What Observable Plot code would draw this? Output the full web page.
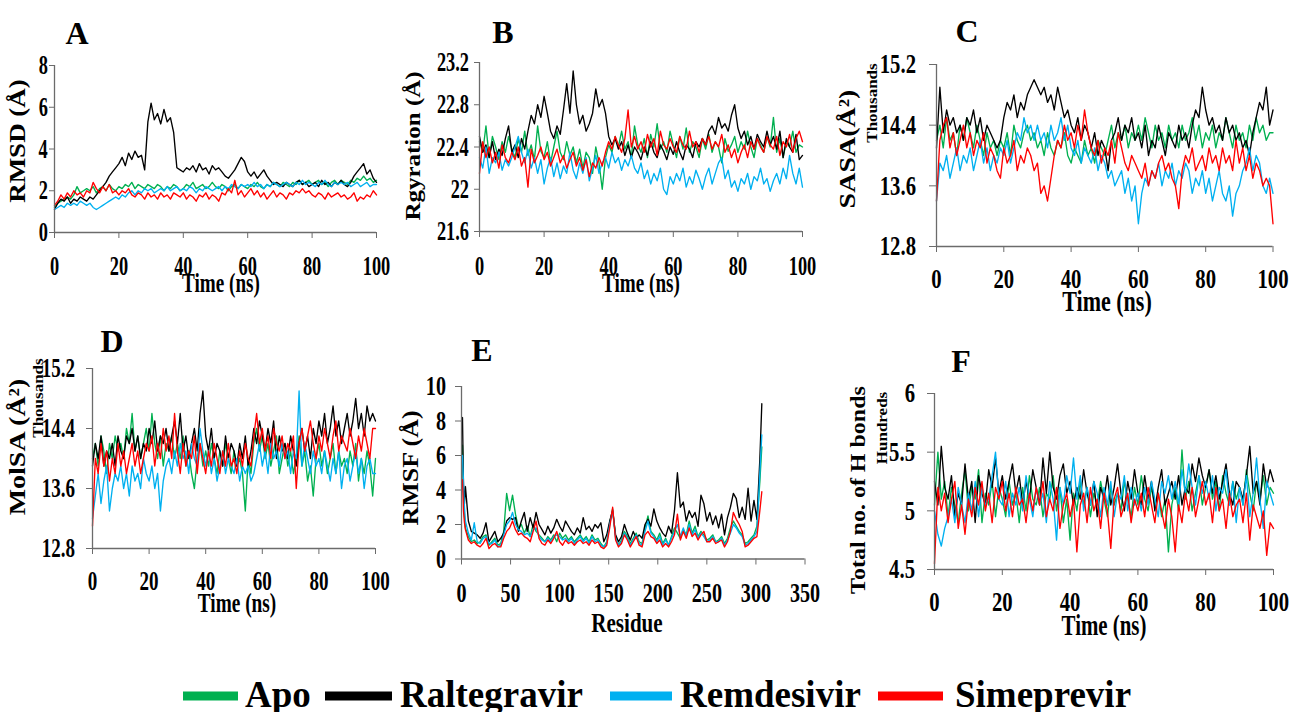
<!DOCTYPE html>
<html>
<head>
<meta charset="utf-8">
<script src="https://cdn.jsdelivr.net/npm/d3@7"></script>
<script src="https://cdn.jsdelivr.net/npm/@observablehq/plot@0.6"></script>
<style>
  body { margin: 0; background: #fff; }
  #fig { position: relative; width: 1292px; height: 712px; overflow: hidden; background: #fff;
         font-family: "Liberation Serif", "Times New Roman", serif; font-weight: bold; }
  #fig svg.panel { position: absolute; overflow: visible; }
  #overlay { position: absolute; left: 0; top: 0; }
</style>
</head>
<body>
<div id="fig"></div>
<script>
// ---------------- DATA ----------------
const seriesNames = ["Apo", "Raltegravir", "Remdesivir", "Simeprevir"];
const seriesColors = ["#00B050", "#000000", "#00B0F0", "#FF0000"];

// time axis (ns), one sample per ns
const timeNs = [0,1,2,3,4,5,6,7,8,9,10,11,12,13,14,15,16,17,18,19,20,21,22,23,24,25,26,27,28,29,30,31,32,33,34,35,36,37,38,39,40,41,42,43,44,45,46,47,48,49,50,51,52,53,54,55,56,57,58,59,60,61,62,63,64,65,66,67,68,69,70,71,72,73,74,75,76,77,78,79,80,81,82,83,84,85,86,87,88,89,90,91,92,93,94,95,96,97,98,99,100];

// A: RMSD (Å)
const rmsdApo = [1.2,1.4,1.5,1.6,1.7,1.6,1.8,2.2,1.9,2.0, 2.1,2.0,2.2,1.9,2.1,2.2,2.0,2.3,2.1,2.0, 2.2,2.1,2.3,2.2,2.4,2.1,2.3,2.2,2.1,2.3, 2.2,2.1,2.3,2.2,2.0,2.2,2.1,2.3,2.2,2.0, 2.1,2.3,2.2,2.4,2.1,2.2,2.3,2.1,2.2,2.4, 2.2,2.1,2.3,2.2,2.0,2.2,2.3,2.1,2.3,2.2, 2.1,2.3,2.2,2.4,2.2,2.1,2.3,2.2,2.4,2.3, 2.2,2.4,2.3,2.2,2.4,2.3,2.5,2.3,2.4,2.5, 2.3,2.4,2.5,2.3,2.4,2.2,2.4,2.5,2.3,2.5, 2.4,2.3,2.5,2.4,2.6,2.5,2.7,2.5,2.6,2.4, 2.5];
const rmsdRal = [1.1,1.4,1.6,1.5,1.7,1.4,1.6,1.5,1.7,1.6, 1.5,1.7,1.6,1.8,2.0,2.2,2.4,2.7,2.9,3.1, 3.3,3.6,3.2,3.8,3.5,3.9,3.6,3.7,3.0,5.3, 6.2,5.4,5.7,5.2,5.9,5.3,5.5,4.8,3.1,3.0, 2.9,3.1,3.0,3.2,2.9,3.3,3.0,3.1,2.8,3.2, 3.0,3.1,2.9,2.7,2.6,2.8,3.0,3.3,3.6,3.4, 2.9,2.7,2.9,2.6,2.8,3.0,2.7,2.5,2.3,2.4, 2.3,2.2,2.4,2.3,2.2,2.4,2.5,2.3,2.4,2.2, 2.3,2.4,2.2,2.5,2.3,2.4,2.2,2.4,2.3,2.5, 2.3,2.2,2.4,2.7,2.9,3.1,3.3,2.8,3.0,2.6, 2.4];
const rmsdRem = [1.1,1.2,1.3,1.2,1.4,1.3,1.4,1.3,1.5,1.4, 1.3,1.4,1.2,1.1,1.2,1.3,1.4,1.5,1.6,1.7, 1.6,1.8,1.7,1.9,2.0,1.8,2.0,1.9,2.1,2.0, 2.1,1.9,2.0,2.1,2.0,2.2,2.0,2.1,2.2,2.0, 2.1,2.0,2.2,2.1,1.9,2.1,2.0,2.2,2.1,2.0, 2.1,2.2,2.0,2.2,2.1,2.3,2.2,2.1,2.3,2.2, 2.3,2.2,2.4,2.2,2.3,2.1,2.3,2.2,2.4,2.3, 2.2,2.3,2.4,2.3,2.2,2.4,2.3,2.5,2.3,2.4, 2.3,2.2,2.4,2.3,2.5,2.3,2.2,2.4,2.3,2.4, 2.3,2.4,2.2,2.3,2.4,2.2,2.3,2.4,2.2,2.3, 2.3];
const rmsdSim = [1.3,1.5,1.8,1.6,1.9,1.7,2.0,1.8,1.9,1.7, 2.0,1.9,2.4,2.1,1.9,2.2,2.0,2.3,1.9,2.0, 1.8,2.0,1.9,2.1,1.8,1.7,1.9,1.8,1.6,1.9, 1.7,1.8,1.6,1.9,1.7,1.8,1.6,1.9,1.8,1.7, 1.9,1.6,1.8,1.7,1.5,1.8,1.7,1.9,1.6,1.8, 1.7,1.5,1.9,1.8,2.1,1.9,2.5,1.8,2.0,1.7, 1.9,2.1,1.8,2.0,1.7,1.9,1.6,1.8,2.0,1.7, 1.9,1.8,1.6,1.9,1.8,2.0,1.9,2.1,1.9,2.0, 1.8,1.7,1.9,1.8,1.6,1.9,1.7,1.8,1.9,1.7, 1.8,1.6,1.7,1.9,1.5,1.7,1.6,1.8,1.7,2.0, 1.8];

// B: radius of gyration (Å)
const rgApo = [22.45,22.35,22.60,22.30,22.50,22.40,22.28,22.45,22.35,22.50, 22.38,22.30,22.48,22.35,22.55,22.32,22.42,22.28,22.60,22.36, 22.30,22.45,22.25,22.40,22.55,22.35,22.28,22.45,22.32,22.40, 22.25,22.38,22.20,22.35,22.30,22.15,22.40,22.25,22.00,22.30, 22.42,22.35,22.50,22.40,22.55,22.38,22.45,22.30,22.60,22.42, 22.35,22.48,22.30,22.52,22.40,22.62,22.38,22.45,22.35,22.55, 22.42,22.30,22.50,22.38,22.58,22.35,22.45,22.40,22.30,22.48, 22.38,22.52,22.35,22.45,22.40,22.25,22.48,22.36,22.42,22.50, 22.35,22.45,22.38,22.55,22.40,22.30,22.48,22.42,22.35,22.50, 22.40,22.68,22.35,22.48,22.30,22.45,22.40,22.55,22.35,22.42, 22.40];
const rgRal = [22.50,22.35,22.42,22.30,22.45,22.28,22.38,22.32,22.48,22.60, 22.35,22.42,22.30,22.48,22.38,22.55,22.70,22.62,22.80,22.68, 22.88,22.72,22.55,22.48,22.60,22.52,22.75,23.00,22.72,23.12, 22.80,22.62,22.70,22.55,22.62,22.72,22.95,22.78,22.85,22.72, 22.50,22.42,22.48,22.38,22.45,22.32,22.42,22.30,22.40,22.35, 22.28,22.40,22.32,22.45,22.35,22.30,22.42,22.36,22.28,22.40, 22.33,22.45,22.35,22.28,22.42,22.38,22.30,22.45,22.40,22.48, 22.42,22.55,22.60,22.52,22.68,22.58,22.62,22.55,22.70,22.80, 22.58,22.48,22.55,22.42,22.50,22.38,22.52,22.45,22.40,22.55, 22.42,22.50,22.38,22.55,22.30,22.48,22.40,22.35,22.52,22.28, 22.32];
const rgRem = [22.30,22.20,22.40,22.15,22.30,22.25,22.35,22.18,22.28,22.22, 22.30,22.40,22.50,22.35,22.25,22.38,22.20,22.30,22.15,22.28, 22.05,22.20,22.30,22.12,22.25,22.10,22.22,22.15,22.35,22.18, 22.10,22.25,22.15,22.30,22.08,22.20,22.32,22.15,22.25,22.30, 22.20,22.35,22.25,22.30,22.18,22.28,22.22,22.32,22.20,22.15, 22.25,22.10,22.18,22.05,22.15,22.08,22.20,22.00,21.95,22.12, 22.05,22.15,22.08,22.20,22.02,22.12,22.05,22.18,22.10,22.00, 22.12,22.20,22.05,22.15,22.25,22.30,22.10,22.18,22.02,22.08, 21.98,22.10,22.05,22.15,22.00,22.12,22.08,22.20,22.05,22.10, 21.98,22.08,22.15,22.05,22.20,22.10,22.32,22.15,22.05,22.20, 22.02];
const rgSim = [22.15,22.45,22.30,22.40,22.25,22.35,22.20,22.42,22.30,22.25, 22.35,22.28,22.40,22.22,22.30,22.02,22.38,22.25,22.32,22.40, 22.28,22.35,22.22,22.30,22.38,22.25,22.32,22.20,22.28,22.35, 22.22,22.30,22.18,22.28,22.12,22.25,22.20,22.30,22.22,22.35, 22.45,22.38,22.50,22.42,22.35,22.48,22.75,22.40,22.50,22.38, 22.45,22.35,22.52,22.40,22.48,22.32,22.55,22.42,22.38,22.48, 22.40,22.35,22.50,22.42,22.38,22.55,22.40,22.45,22.35,22.48, 22.42,22.50,22.38,22.45,22.40,22.52,22.35,22.42,22.30,22.38, 22.25,22.35,22.42,22.30,22.45,22.38,22.48,22.40,22.35,22.50, 22.42,22.38,22.50,22.32,22.45,22.40,22.52,22.35,22.48,22.55, 22.45];

// C: SASA (thousands of Å²)
const sasaApo = [14.2,14.4,14.1,14.5,14.2,14.3,14.0,14.4,14.2,14.5, 14.3,14.1,14.4,14.2,14.0,14.3,14.1,14.2,14.0,14.2, 14.1,14.3,14.0,14.4,14.2,14.1,14.3,14.4,14.2,14.3, 14.1,14.2,14.0,14.3,14.1,14.0,14.2,14.1,14.3,14.0, 13.9,14.1,14.0,13.9,14.2,14.0,14.1,13.9,14.2,14.1, 14.0,14.2,14.4,14.1,14.3,14.2,14.4,14.1,14.3,14.2, 14.4,14.2,14.5,14.3,14.1,14.4,14.2,14.3,14.1,14.4, 14.2,14.3,14.1,14.4,14.2,14.3,14.5,14.2,14.4,14.1, 14.3,14.2,14.4,14.1,14.3,14.2,14.5,14.3,14.1,14.4, 14.2,14.3,14.1,14.4,14.2,14.5,14.3,14.4,14.2,14.3, 14.3];
const sasaRal = [14.1,14.9,14.3,14.6,14.4,14.5,14.3,14.4,14.2,14.5, 14.4,14.6,14.3,14.5,14.2,14.4,14.3,14.2,14.1,14.2, 14.5,14.7,14.6,14.8,14.5,14.7,14.6,14.8,14.9,15.0, 14.9,14.8,14.9,14.7,14.8,14.6,14.9,14.7,14.5,14.6, 14.4,14.3,14.5,14.2,14.4,14.3,14.1,14.3,14.0,14.2, 14.1,13.8,14.2,14.3,14.5,14.2,14.4,14.3,14.5,14.2, 14.3,14.1,14.4,14.0,14.2,14.1,14.4,14.2,14.0,14.3, 14.2,14.1,14.4,14.2,14.3,14.1,14.4,14.6,14.5,14.9, 14.6,14.4,14.5,14.3,14.4,14.2,14.5,14.3,14.4,14.2, 14.3,14.1,14.2,14.0,14.3,14.5,14.7,14.6,14.9,14.4, 14.6];
const sasaRem = [13.4,13.9,13.8,14.0,13.7,13.9,14.1,13.8,14.0,13.9, 14.1,13.8,14.0,14.2,13.9,14.1,13.8,14.0,13.9,14.1, 14.0,14.2,13.9,14.1,14.3,14.2,14.5,14.3,14.4,14.2, 14.4,14.2,14.3,14.1,14.4,14.2,14.3,14.5,14.2,14.4, 14.1,14.0,14.2,13.9,14.1,14.0,13.9,14.1,13.8,14.0, 13.9,13.7,13.8,13.6,13.7,13.8,13.5,13.7,13.4,13.6, 13.1,13.5,13.7,13.6,13.8,13.7,13.9,13.6,13.8,13.7, 13.9,13.6,13.8,13.7,13.9,13.8,13.5,13.7,13.6,13.8, 13.5,13.7,13.4,13.6,13.8,13.5,13.4,13.6,13.2,13.5, 13.6,13.8,13.9,14.1,13.8,14.0,13.9,13.6,13.5,13.7, 13.5];
const sasaSim = [13.4,14.2,14.4,14.5,14.1,14.3,14.0,14.2,14.4,14.1, 14.3,14.0,14.2,14.1,14.3,13.9,14.1,14.0,13.8,13.7, 14.1,13.9,14.0,14.2,13.8,14.0,13.9,14.1,14.0,13.8, 13.9,13.5,13.6,13.4,13.7,14.0,14.2,14.1,14.4,14.2, 14.3,14.1,14.4,14.2,14.6,14.3,14.1,14.0,14.2,13.9, 14.1,14.0,14.2,13.9,14.3,14.1,13.9,13.8,14.0,13.9, 13.8,13.7,13.9,13.6,13.8,13.7,13.9,14.0,13.8,13.9, 13.7,13.6,13.3,13.8,14.0,13.9,14.1,13.8,13.9,14.0, 13.8,14.1,13.9,14.0,13.8,14.1,13.9,14.0,13.8,14.2, 13.9,14.1,13.8,14.0,13.7,13.9,13.8,13.6,13.7,13.6, 13.1];

// D: MolSA (thousands of Å²)
const molApo = [14.0,14.2,13.9,14.3,14.1,13.8,14.2,14.0,14.3,14.1, 14.2,14.0,14.4,14.2,14.6,14.1,14.3,14.0,14.2,14.4, 14.1,14.6,14.2,14.0,14.3,13.9,14.2,14.1,14.3,14.0, 14.2,14.0,14.3,13.9,14.1,13.8,13.6,14.0,14.2,13.9, 14.1,13.9,14.2,14.0,13.8,14.1,13.9,14.2,14.0,13.8, 14.1,13.9,14.0,13.8,13.3,14.0,13.8,14.2,14.4,14.1, 14.3,14.0,14.2,13.9,14.1,14.3,13.8,14.0,14.2,13.9, 14.1,13.8,14.0,14.3,13.9,14.1,13.7,13.9,13.5,14.0, 14.2,13.9,14.1,13.8,14.0,14.2,13.8,14.1,13.9,14.0, 13.8,14.1,13.9,14.2,13.7,14.0,13.8,14.1,13.9,13.5, 14.0];
const molRal = [13.9,14.2,14.0,14.3,13.9,14.1,14.0,14.2,13.9,14.3, 14.1,14.0,14.3,14.2,14.4,14.1,14.3,14.0,14.2,14.1, 14.4,14.2,14.5,14.1,14.3,14.2,14.4,14.1,14.3,14.5, 14.2,14.6,14.1,14.3,14.0,14.2,14.4,14.1,14.6,14.9, 14.3,14.1,14.4,14.0,14.2,14.1,13.9,14.3,14.0,14.2, 14.1,13.9,14.2,14.0,14.3,13.9,14.1,14.4,14.2,14.5, 14.3,14.1,14.4,14.2,14.5,14.0,14.3,14.1,14.2,14.0, 14.3,14.1,13.9,14.2,14.4,14.1,14.3,14.0,14.4,14.2, 14.5,14.3,14.6,14.2,14.4,14.7,14.3,14.5,14.2,14.4, 14.6,14.3,14.5,14.8,14.4,14.6,14.3,14.7,14.5,14.6, 14.5];
const molRem = [13.2,13.5,13.8,13.4,13.7,13.9,13.3,13.6,13.8,13.7, 13.9,13.6,13.8,13.5,13.9,13.7,13.8,13.6,14.0,13.8, 13.7,13.9,13.6,13.8,13.3,13.7,13.9,14.0,13.8,14.1, 13.9,14.2,14.0,14.1,13.8,14.2,14.0,13.9,14.4,14.1, 13.9,14.1,13.8,14.0,13.7,13.9,14.1,13.8,14.0,13.9, 13.8,14.0,13.7,13.9,13.8,13.9,13.7,13.8,14.0,14.2, 13.9,14.1,13.8,14.2,14.0,14.1,13.9,14.2,14.0,14.1, 13.8,14.1,14.0,14.9,13.9,14.2,14.0,13.8,14.1,13.9, 14.0,13.8,14.1,13.9,13.7,14.0,13.8,14.1,13.6,13.9, 14.0,13.7,13.9,14.1,13.8,14.0,13.6,13.9,14.0,13.8, 13.8];
const molSim = [13.1,14.0,13.8,14.2,13.9,14.1,13.7,14.0,13.8,14.2, 13.9,14.1,13.8,14.0,14.2,13.9,14.1,13.8,14.0,14.2, 14.1,14.3,13.9,14.2,14.0,14.4,14.1,14.3,14.0,14.6, 14.1,13.8,14.2,13.9,14.1,14.0,14.3,13.8,14.2,14.0, 13.8,14.1,13.9,14.2,14.0,13.8,14.1,13.9,14.2,13.9, 14.0,13.8,14.1,13.9,14.2,14.0,13.9,14.3,14.6,14.2, 14.4,14.1,14.3,14.0,14.4,14.2,14.1,14.3,14.0,14.2, 14.1,14.3,13.6,14.2,14.4,14.1,14.3,14.5,14.2,14.0, 14.3,14.1,14.4,14.2,14.0,14.3,14.5,14.1,14.3,14.2, 14.1,14.4,14.2,14.0,14.3,14.1,14.4,14.2,14.0,14.4, 14.4];

// F: total number of H bonds (hundreds)
const hbApo = [5.05,5.50,5.10,5.25,4.95,5.20,5.05,4.90,5.15,5.35, 5.00,5.20,5.10,5.35,4.90,5.15,5.05,5.25,4.95,5.20, 5.10,4.95,5.25,5.05,5.15,4.90,5.20,5.00,5.30,5.10, 5.05,5.20,4.95,5.15,5.10,5.30,5.00,5.20,4.90,5.10, 4.75,5.15,5.00,5.25,5.05,5.20,4.95,5.15,5.05,5.25, 5.10,4.95,5.20,5.05,5.15,5.00,5.25,5.10,4.95,5.20, 5.05,5.30,5.10,5.00,5.20,5.05,5.15,4.95,5.10,4.65, 5.05,5.20,5.00,5.52,5.10,5.25,5.00,5.15,5.30,5.05, 5.20,5.35,5.10,5.25,5.00,5.30,5.15,5.05,5.25,5.10, 5.20,5.05,5.35,5.15,5.00,5.25,5.10,5.30,5.05,5.20, 5.15];
const hbRal = [5.25,5.05,5.55,5.20,5.10,5.30,4.95,5.15,5.05,5.40, 5.10,5.25,4.90,5.30,5.15,5.05,5.35,5.20,5.45,5.15, 5.30,5.10,5.25,5.40,5.15,5.30,5.05,5.25,5.10,5.35, 5.20,5.05,5.45,5.15,5.50,5.20,5.10,5.30,5.40,5.15, 5.25,5.05,5.20,5.10,5.35,5.15,5.05,5.25,4.95,5.20, 5.10,5.30,5.05,5.20,5.40,5.15,5.00,5.25,5.10,5.35, 5.15,5.05,5.30,5.10,5.25,5.00,5.20,5.35,5.05,5.15, 5.25,5.10,5.30,5.05,5.20,5.15,5.40,5.25,5.45,5.30, 5.20,5.35,5.15,5.30,5.10,5.25,5.40,5.15,5.05,5.25, 5.20,5.10,5.30,5.55,5.15,5.25,5.05,5.40,5.20,5.35, 5.25];
const hbRem = [5.00,4.80,4.70,4.85,4.95,5.10,4.90,5.20,5.05,4.90, 5.15,5.00,5.25,4.95,5.20,5.05,5.10,5.30,5.50,5.10, 5.05,5.25,4.95,5.15,5.05,5.20,5.00,5.30,5.10,4.95, 5.20,5.05,5.15,4.90,5.25,5.10,4.75,5.20,5.05,5.30, 5.15,5.45,5.10,5.30,5.00,5.20,5.05,5.25,5.15,4.95, 5.20,5.05,5.25,4.95,5.15,5.10,5.30,5.00,5.20,5.05, 5.15,5.00,5.20,5.05,5.25,5.10,4.95,5.25,5.15,5.30, 5.10,5.25,5.05,5.35,5.15,5.40,5.20,5.05,5.30,5.15, 5.25,5.10,5.30,5.00,5.20,5.15,5.35,5.05,5.25,4.90, 5.20,5.05,5.30,4.95,5.15,5.45,5.10,4.85,5.25,5.15, 5.05];
const hbSim = [4.55,5.20,5.00,5.15,4.90,5.10,5.25,4.85,5.05,4.80, 5.10,4.95,5.20,5.05,5.25,5.00,5.15,4.90,5.20,5.10, 5.25,5.00,5.15,4.95,5.20,5.05,5.10,4.90,5.15,5.00, 5.20,5.05,5.25,4.95,5.10,5.00,5.20,4.85,5.05,5.15, 4.95,5.10,4.65,5.05,5.15,4.90,5.20,5.00,5.10,4.85, 5.15,5.00,4.68,5.10,5.20,4.95,5.05,5.15,4.90,5.10, 5.00,5.15,4.95,5.20,5.05,4.90,5.15,5.00,4.85,5.10, 4.95,4.65,5.05,4.90,5.15,5.00,5.20,4.95,5.10,5.25, 5.05,5.15,4.90,5.20,5.00,5.10,4.85,5.15,4.95,5.05, 5.10,4.90,5.15,4.75,5.05,4.95,4.85,5.00,4.62,4.90, 4.85];

// E: RMSF (Å) per residue
const residues = [1,2,3,4,7,10,13,16,19,22,25,28,31,34,37,40,43,46,49,52,55,58,61,64,67,70,73,76,79,82,85,88,91,94,97,100,103,106,109,112,115,118,121,124,127,130,133,136,139,142,145,148,151,154,157,160,163,166,169,172,175,178,181,184,187,190,193,196,199,202,205,208,211,214,217,220,223,226,229,232,235,238,241,244,247,250,253,256,259,262,265,268,271,274,277,280,283,286,289,292,295,298,301,304,306];
const rmsfApo = [6.6,4.0,2.5,1.8,1.3,1.0,1.1,0.9,1.0,1.3,1.4,0.8,1.0,1.2,0.8,0.9,1.6,3.8,2.8,3.7,2.6,1.8,2.0,1.5,1.9,1.3,2.0,1.6,1.4,1.2,1.0,1.3,1.1,1.4,1.0,1.5,1.2,1.4,1.1,1.3,1.0,1.2,1.4,1.1,1.3,1.0,1.4,1.1,1.2,0.9,0.7,1.0,2.1,2.9,1.3,0.8,1.1,1.6,1.3,0.9,1.2,1.5,1.0,0.9,1.8,2.5,1.6,1.4,1.1,1.5,0.9,1.2,0.8,1.3,1.8,1.5,1.2,1.7,1.4,2.2,1.5,1.9,1.3,1.6,1.4,1.1,1.2,1.4,1.0,1.1,1.3,0.9,1.2,1.8,2.2,1.9,1.6,1.4,0.9,1.0,1.2,1.4,1.9,4.5,6.5];
const rmsfRal = [8.2,4.3,3.2,4.2,2.2,1.6,1.5,1.4,1.2,1.5,2.1,1.0,1.3,1.6,1.0,1.2,1.5,2.2,2.4,2.3,2.4,1.6,2.2,2.7,1.6,2.4,1.8,2.7,2.0,1.7,1.4,1.9,1.5,1.8,2.3,1.9,1.6,2.2,1.9,1.6,1.4,1.8,1.5,2.4,1.7,1.9,1.6,2.0,1.8,2.1,1.0,1.4,2.2,2.8,1.4,1.0,1.3,2.0,1.5,1.1,1.6,1.2,1.4,1.2,2.0,2.3,1.9,2.9,2.2,1.8,1.5,1.3,1.9,1.5,2.8,5.0,3.0,3.3,2.2,2.8,2.4,2.7,1.9,3.7,3.2,2.2,2.7,2.0,2.5,1.8,2.6,1.4,2.4,3.0,3.8,3.5,2.4,3.0,2.3,4.1,2.2,3.4,2.3,5.8,9.0];
const rmsfRem = [6.0,4.5,3.0,2.2,1.5,1.1,2.1,1.0,0.9,1.2,1.3,0.9,0.9,1.1,0.7,0.8,1.4,2.0,2.2,2.7,2.0,1.7,1.6,1.4,1.5,1.3,1.7,1.8,1.3,1.1,1.0,1.2,1.0,1.3,1.4,1.3,1.1,1.2,1.0,1.2,0.9,1.1,1.3,1.0,1.2,0.9,1.3,1.0,1.1,0.8,0.7,0.9,2.0,2.8,1.2,0.8,1.0,1.5,1.2,0.8,1.1,1.4,0.9,0.8,1.6,2.2,1.5,1.3,1.0,1.3,0.8,1.1,0.8,1.2,1.6,2.0,1.3,1.8,1.3,2.0,1.4,1.7,1.2,1.5,1.3,1.0,1.1,1.3,1.0,1.0,1.2,0.8,1.1,1.5,2.0,1.8,1.5,1.3,0.8,0.9,1.1,1.3,1.6,5.0,7.2];
const rmsfSim = [4.6,2.8,2.1,1.7,1.1,0.9,1.0,0.8,0.7,0.9,1.2,0.6,0.8,0.9,0.7,0.7,1.2,1.6,1.8,2.2,1.7,1.4,1.5,1.3,1.2,1.0,1.6,2.2,1.2,0.9,0.8,1.1,0.9,1.2,1.6,1.0,0.8,1.1,0.9,1.0,0.8,1.0,1.1,0.9,1.0,0.8,1.1,0.9,1.0,0.7,0.6,0.8,1.8,3.0,1.1,0.7,0.9,1.4,1.1,0.7,1.0,1.3,0.8,0.7,1.4,1.6,1.3,1.2,0.9,1.1,0.7,0.9,0.7,1.0,1.4,2.6,1.1,1.6,1.2,1.8,1.3,1.5,1.1,1.4,1.6,1.0,1.0,1.2,0.9,1.0,1.1,0.7,1.0,1.6,2.7,2.3,2.0,1.6,0.7,0.8,1.0,1.2,1.3,2.8,3.9];

// ---------------- LAYOUT ----------------
const fig = document.getElementById("fig");
const fmt = d => String(+(+d).toFixed(2));

// squeeze tick labels horizontally (the original figure uses a condensed face);
// Plot positions each text through its transform attribute, so a trailing scale keeps its anchor.
function compressText(svg, sx) {
  svg.querySelectorAll("text").forEach(t => {
    const tr = t.getAttribute("transform") || "";
    t.setAttribute("transform", tr + ` scale(${sx},1)`);
  });
}

// after layout, pin the right edge of every y tick label at a fixed gap left of the y axis
function alignYLabels(svg, axisX, gap) {
  svg.querySelectorAll('g[aria-label="y-axis tick label"] text').forEach(t => {
    const r = t.getBoundingClientRect();
    const delta = (axisX - gap) - r.right;
    t.setAttribute("transform", `translate(${delta},0) ` + t.getAttribute("transform"));
  });
}

function makePanel(p) {
  const mL = 90, mT = 14, mR = 40, mB = 60;
  const [L, T, R, B] = p.frame;
  const rows = [];
  p.series.forEach((vals, k) => vals.forEach((v, i) => rows.push({x: p.xs[i], y: v, s: seriesNames[k]})));
  const chart = Plot.plot({
    width: R - L + mL + mR,
    height: B - T + mT + mB,
    marginLeft: mL, marginTop: mT, marginRight: mR, marginBottom: mB,
    style: {fontFamily: '"Liberation Serif", "Times New Roman", serif', fontWeight: "bold", background: "transparent", color: "#000", overflow: "visible"},
    x: {domain: p.xDomain},
    y: {domain: p.yDomain},
    color: {domain: seriesNames, range: seriesColors},
    marks: [
      Plot.lineY(rows, {x: "x", y: "y", stroke: "s", z: "s", strokeWidth: 1.35, strokeLinejoin: "round"}),
      Plot.ruleX([p.xDomain[0]], {stroke: "#6b6b6b", strokeWidth: 1.3}),
      Plot.ruleY([p.yDomain[0]], {stroke: "#6b6b6b", strokeWidth: 1.3}),
      Plot.axisX({ticks: p.xTicks, tickSize: 6, tickPadding: p.xPad, fontSize: p.tickFont, tickFormat: fmt, label: null, stroke: "#6b6b6b", fill: "#000"}),
      Plot.axisY({ticks: p.yTicks, tickSize: p.yTickSize, tickPadding: 4, fontSize: p.tickFont, tickFormat: fmt, label: null, stroke: "#6b6b6b", fill: "#000"})
    ]
  });
  chart.classList.add("panel");
  chart.style.left = (L - mL) + "px";
  chart.style.top = (T - mT) + "px";
  compressText(chart, p.tickSx);
  fig.appendChild(chart);
  alignYLabels(chart, L, p.yGap);
}

const timeTicks = [0, 20, 40, 60, 80, 100];
const thousandTicks = [12.8, 13.6, 14.4, 15.2];

makePanel({frame: [54, 65, 376, 232], xs: timeNs, series: [rmsdApo, rmsdRal, rmsdRem, rmsdSim],
  xDomain: [0, 100], yDomain: [0, 8], xTicks: timeTicks, yTicks: [0, 2, 4, 6, 8],
  xPad: 17, yGap: 6, yTickSize: 5, tickFont: 27, tickSx: 0.68});
makePanel({frame: [478.5, 62, 801.5, 231], xs: timeNs, series: [rgApo, rgRal, rgRem, rgSim],
  xDomain: [0, 100], yDomain: [21.6, 23.2], xTicks: timeTicks, yTicks: [21.6, 22, 22.4, 22.8, 23.2],
  xPad: 18, yGap: 10, yTickSize: 5, tickFont: 27, tickSx: 0.68});
makePanel({frame: [935.5, 64, 1272, 246], xs: timeNs, series: [sasaApo, sasaRal, sasaRem, sasaSim],
  xDomain: [0, 100], yDomain: [12.8, 15.2], xTicks: timeTicks, yTicks: thousandTicks,
  xPad: 16, yGap: 20, yTickSize: 7, tickFont: 28, tickSx: 0.74});
makePanel({frame: [92, 368, 375, 548], xs: timeNs, series: [molApo, molRal, molRem, molSim],
  xDomain: [0, 100], yDomain: [12.8, 15.2], xTicks: timeTicks, yTicks: thousandTicks,
  xPad: 16, yGap: 17, yTickSize: 6, tickFont: 28, tickSx: 0.68});
makePanel({frame: [460.5, 386, 804, 558.5], xs: residues, series: [rmsfApo, rmsfRal, rmsfRem, rmsfSim],
  xDomain: [0, 350], yDomain: [0, 10], xTicks: [0, 50, 100, 150, 200, 250, 300, 350], yTicks: [0, 2, 4, 6, 8, 10],
  xPad: 17, yGap: 15, yTickSize: 6, tickFont: 28, tickSx: 0.72});
makePanel({frame: [934, 393, 1273, 569], xs: timeNs, series: [hbApo, hbRal, hbRem, hbSim],
  xDomain: [0, 100], yDomain: [4.5, 6], xTicks: timeTicks, yTicks: [4.5, 5, 5.5, 6],
  xPad: 16, yGap: 19, yTickSize: 7, tickFont: 28, tickSx: 0.74});

// ---------------- TEXT OVERLAY & LEGEND ----------------
const NS = "http://www.w3.org/2000/svg";
const overlay = document.createElementNS(NS, "svg");
overlay.setAttribute("id", "overlay");
overlay.setAttribute("width", 1292);
overlay.setAttribute("height", 712);
overlay.style.fontFamily = '"Liberation Serif", "Times New Roman", serif';
overlay.style.fontWeight = "bold";
fig.appendChild(overlay);

function addText(str, x, y, size, opts = {}) {
  const t = document.createElementNS(NS, "text");
  t.textContent = str;
  t.setAttribute("font-size", size);
  t.setAttribute("text-anchor", opts.anchor || "middle");
  t.setAttribute("fill", "#000");
  const sx = opts.sx || 1;
  if (opts.rotate) {
    t.setAttribute("transform", `translate(${x},${y}) rotate(-90) scale(1,${sx})`);
  } else {
    t.setAttribute("transform", `translate(${x},${y}) scale(${sx},1)`);
  }
  overlay.appendChild(t);
}

// panel letters
addText("A", 77, 44, 32);
addText("B", 503, 43, 32);
addText("C", 967, 42, 32);
addText("D", 112, 352, 32);
addText("E", 482, 361, 32);
addText("F", 961, 372, 32);

// x-axis titles
addText("Time (ns)", 221, 292, 27, {sx: 0.71});
addText("Time (ns)", 641, 292, 27, {sx: 0.71});
addText("Time (ns)", 1107, 311, 29, {sx: 0.76});
addText("Time (ns)", 237, 612, 28, {sx: 0.69});
addText("Residue", 627, 632, 27, {sx: 0.78});
addText("Time (ns)", 1104, 635, 29, {sx: 0.72});

// y-axis titles (rotated)
addText("RMSD (Å)", 25, 141, 27, {rotate: true, sx: 0.85});
addText("Rgyration (Å)", 420, 146, 25, {rotate: true, sx: 0.85});
addText("SASA(Å²)", 855, 149, 28, {rotate: true, sx: 0.85});
addText("Thousands", 877, 103, 17, {rotate: true, sx: 0.85});
addText("MolSA (Å²)", 25, 447, 28, {rotate: true, sx: 0.85});
addText("Thousands", 43, 398, 17, {rotate: true, sx: 0.85});
addText("RMSF (Å)", 418, 468, 26, {rotate: true, sx: 0.85});
addText("Total no. of H bonds", 865, 490, 24, {rotate: true, sx: 0.85});
addText("Hundreds", 887, 428, 17, {rotate: true, sx: 0.85});

// legend
const legendItems = [
  {name: seriesNames[0], color: seriesColors[0], x1: 183, x2: 238, tx: 245},
  {name: seriesNames[1], color: seriesColors[1], x1: 325, x2: 392, tx: 400},
  {name: seriesNames[2], color: seriesColors[2], x1: 610, x2: 672, tx: 680},
  {name: seriesNames[3], color: seriesColors[3], x1: 878, x2: 943, tx: 955}
];
legendItems.forEach(it => {
  const l = document.createElementNS(NS, "line");
  l.setAttribute("x1", it.x1); l.setAttribute("x2", it.x2);
  l.setAttribute("y1", 696); l.setAttribute("y2", 696);
  l.setAttribute("stroke", it.color); l.setAttribute("stroke-width", 9);
  overlay.appendChild(l);
  addText(it.name, it.tx, 707, 37, {anchor: "start"});
});
</script>
</body>
</html>
